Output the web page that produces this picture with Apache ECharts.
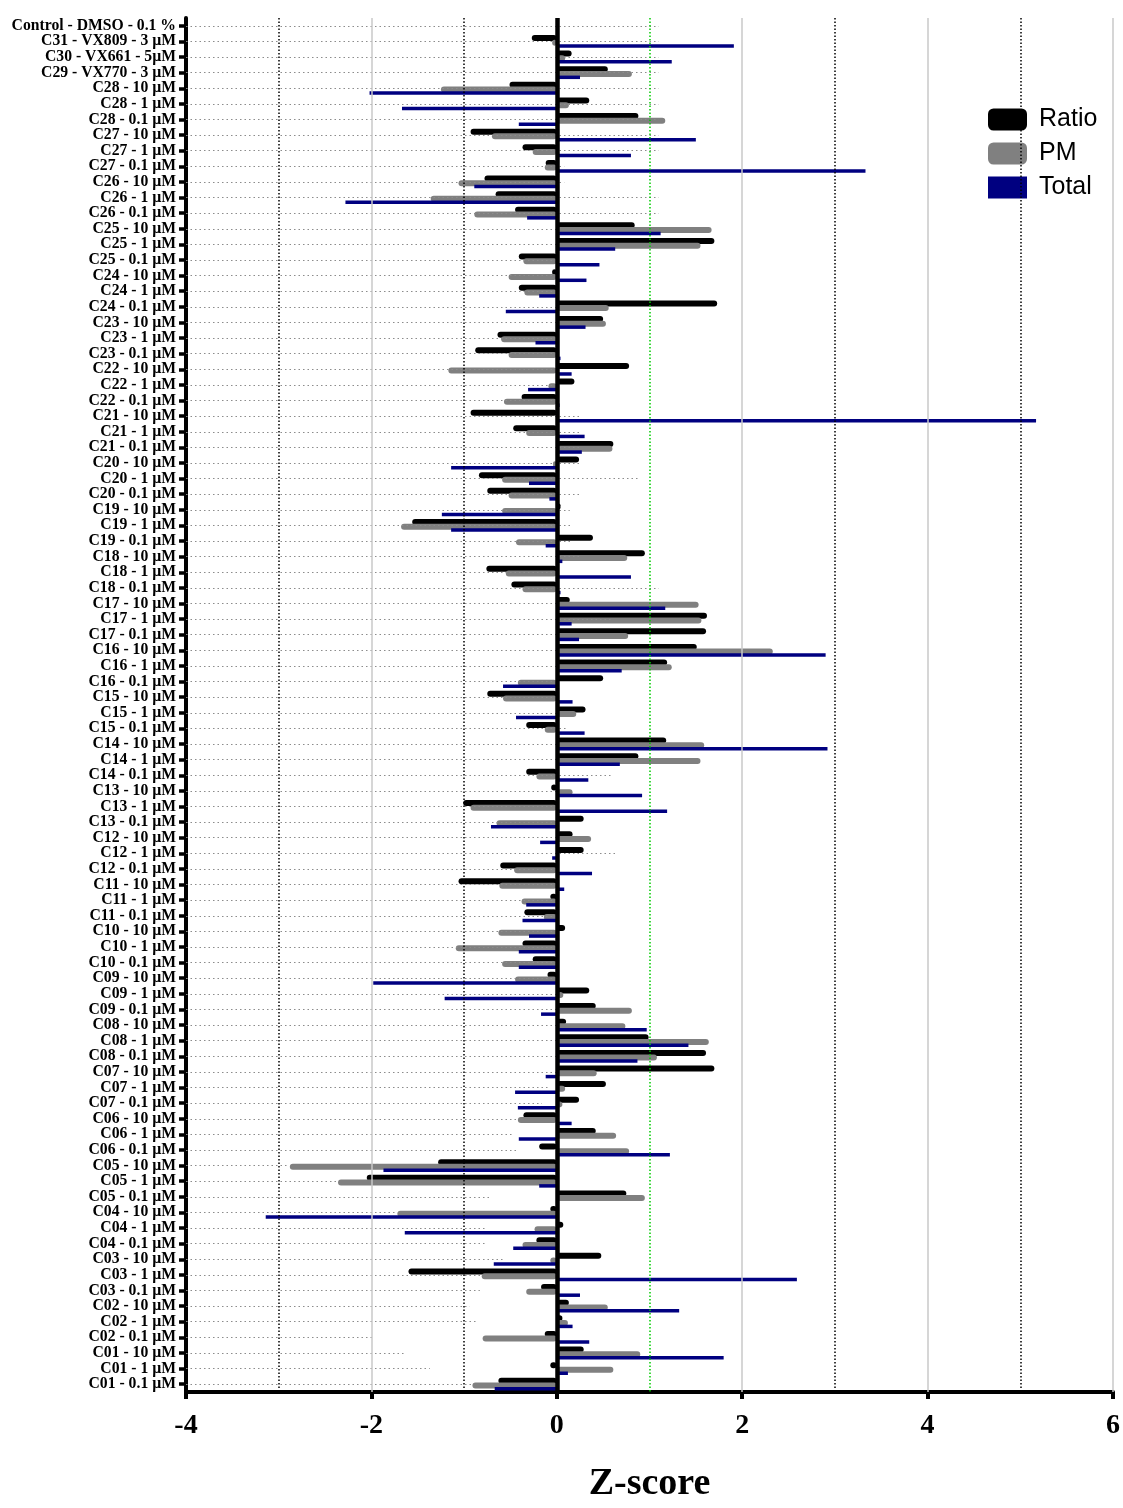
<!DOCTYPE html>
<html>
<head>
<meta charset="utf-8">
<script src="https://cdn.jsdelivr.net/npm/echarts@6/dist/echarts.min.js"></script>
<style>
  html, body { margin: 0; padding: 0; background: #ffffff; }
  #chart { width: 1123px; height: 1508px; }
</style>
</head>
<body>
<div id="chart"></div>
<script>
// Compound / concentration labels, top to bottom
const categories = [
  'Control - DMSO - 0.1 %', 'C31 - VX809 - 3 µM', 'C30 - VX661 - 5µM', 'C29 - VX770 - 3 µM',
  'C28 - 10 µM', 'C28 - 1 µM', 'C28 - 0.1 µM',
  'C27 - 10 µM', 'C27 - 1 µM', 'C27 - 0.1 µM',
  'C26 - 10 µM', 'C26 - 1 µM', 'C26 - 0.1 µM',
  'C25 - 10 µM', 'C25 - 1 µM', 'C25 - 0.1 µM',
  'C24 - 10 µM', 'C24 - 1 µM', 'C24 - 0.1 µM',
  'C23 - 10 µM', 'C23 - 1 µM', 'C23 - 0.1 µM',
  'C22 - 10 µM', 'C22 - 1 µM', 'C22 - 0.1 µM',
  'C21 - 10 µM', 'C21 - 1 µM', 'C21 - 0.1 µM',
  'C20 - 10 µM', 'C20 - 1 µM', 'C20 - 0.1 µM',
  'C19 - 10 µM', 'C19 - 1 µM', 'C19 - 0.1 µM',
  'C18 - 10 µM', 'C18 - 1 µM', 'C18 - 0.1 µM',
  'C17 - 10 µM', 'C17 - 1 µM', 'C17 - 0.1 µM',
  'C16 - 10 µM', 'C16 - 1 µM', 'C16 - 0.1 µM',
  'C15 - 10 µM', 'C15 - 1 µM', 'C15 - 0.1 µM',
  'C14 - 10 µM', 'C14 - 1 µM', 'C14 - 0.1 µM',
  'C13 - 10 µM', 'C13 - 1 µM', 'C13 - 0.1 µM',
  'C12 - 10 µM', 'C12 - 1 µM', 'C12 - 0.1 µM',
  'C11 - 10 µM', 'C11 - 1 µM', 'C11 - 0.1 µM',
  'C10 - 10 µM', 'C10 - 1 µM', 'C10 - 0.1 µM',
  'C09 - 10 µM', 'C09 - 1 µM', 'C09 - 0.1 µM',
  'C08 - 10 µM', 'C08 - 1 µM', 'C08 - 0.1 µM',
  'C07 - 10 µM', 'C07 - 1 µM', 'C07 - 0.1 µM',
  'C06 - 10 µM', 'C06 - 1 µM', 'C06 - 0.1 µM',
  'C05 - 10 µM', 'C05 - 1 µM', 'C05 - 0.1 µM',
  'C04 - 10 µM', 'C04 - 1 µM', 'C04 - 0.1 µM',
  'C03 - 10 µM', 'C03 - 1 µM', 'C03 - 0.1 µM',
  'C02 - 10 µM', 'C02 - 1 µM', 'C02 - 0.1 µM',
  'C01 - 10 µM', 'C01 - 1 µM', 'C01 - 0.1 µM'
];

// Z-scores per readout (same order as categories)
const ratio = [
  0, -0.27, 0.16, 0.55,
  -0.51, 0.35, 0.88,
  -0.93, -0.37, -0.12,
  -0.78, -0.66, -0.45,
  0.84, 1.70, -0.41,
  -0.05, -0.41, 1.73,
  0.50, -0.64, -0.88,
  0.78, 0.19, -0.38,
  -0.93, -0.47, 0.61,
  0.24, -0.84, -0.75,
  0.04, -1.56, 0.39,
  0.95, -0.76, -0.49,
  0.14, 1.62, 1.61,
  1.51, 1.19, 0.50,
  -0.75, 0.31, -0.33,
  1.18, 0.88, -0.33,
  -0.06, -1.01, 0.29,
  0.17, 0.29, -0.61,
  -1.06, -0.07, -0.35,
  0.09, -0.37, -0.26,
  -0.10, 0.35, 0.42,
  0.10, 0.99, 1.61,
  1.70, 0.53, 0.24,
  -0.36, 0.42, -0.19,
  -1.28, -2.05, 0.75,
  -0.07, 0.07, -0.22,
  0.48, -1.60, -0.17,
  0.13, 0.06, -0.13,
  0.29, -0.07, -0.63
];

const pm = [
  0, -0.05, 0.09, 0.81,
  -1.25, 0.13, 1.17,
  -0.70, -0.26, -0.13,
  -1.06, -1.36, -0.89,
  1.67, 1.55, -0.36,
  -0.52, -0.35, 0.56,
  0.53, -0.60, -0.52,
  -1.17, -0.09, -0.57,
  0, -0.33, 0.60,
  -0.04, -0.59, -0.52,
  -0.59, -1.68, -0.44,
  0.76, -0.55, -0.37,
  1.53, 1.56, 0.77,
  2.33, 1.24, -0.42,
  -0.58, 0.21, -0.13,
  1.59, 1.55, -0.22,
  0.17, -0.93, -0.65,
  0.37, 0.02, -0.46,
  -0.62, -0.38, -0.14,
  -0.63, -1.09, -0.59,
  -0.45, 0.07, 0.81,
  0.74, 1.64, 1.08,
  0.43, 0.09, 0.06,
  -0.42, 0.64, 0.78,
  -2.88, -2.36, 0.95,
  -1.72, -0.24, -0.37,
  -0.07, -0.81, -0.33,
  0.55, 0.12, -0.80,
  0.90, 0.61, -0.91
];

const total = [
  0, 1.91, 1.24, 0.25,
  -2.02, -1.67, -0.41,
  1.50, 0.80, 3.33,
  -0.89, -2.28, -0.32,
  1.12, 0.63, 0.46,
  0.32, -0.19, -0.55,
  0.31, -0.23, 0.04,
  0.16, -0.31, 0.03,
  5.17, 0.30, 0.27,
  -1.14, -0.30, -0.08,
  -1.24, -1.14, -0.12,
  0.06, 0.80, 0.04,
  1.17, 0.16, 0.24,
  2.90, 0.70, -0.58,
  0.17, -0.44, 0.30,
  2.92, 0.68, 0.34,
  0.92, 1.19, -0.71,
  -0.18, -0.05, 0.38,
  0.08, -0.33, -0.37,
  -0.30, -0.41, -0.41,
  -1.98, -1.21, -0.17,
  0.97, 1.42, 0.87,
  -0.12, -0.45, -0.42,
  0.16, -0.41, 1.22,
  -1.87, -0.19, 0,
  -3.14, -1.64, -0.47,
  -0.68, 2.59, 0.25,
  1.32, 0.17, 0.35,
  1.80, 0.12, -0.67
];

// Where each row's dotted guide line stops (x value)
const guideEnd = [
  1.1, 1.1, 1.1, 1.1,
  1.1, 1.1, 1.1,
  1.1, 1.1, 0.08,
  0.08, 1.1, 1.1,
  0, 0, 0,
  0, 0, 0,
  0, 0, 0,
  0, 0, 0,
  0.25, 0.27, 0.27,
  0.25, 0.88, 0.27,
  0.14, 0.17, 0.17,
  0.27, 0, 1.1,
  0, 0.58, 0,
  0, 0, 0,
  0, 0, 0.12,
  0, 0, 0.58,
  0, 0, 0,
  0, 0.64, 0,
  0, 0, 0,
  0, 0, 0,
  0, 0, 0,
  0, 0, 0,
  0, -0.09, -0.16,
  -0.42, -0.46, -0.44,
  -2.9, -2.36, -0.72,
  -1.72, -0.77, -0.77,
  -0.57, -0.8, -0.83,
  -0.94, -0.85, -1.98,
  -1.63, -1.37, -0.92
];

// Value axis ticks and reference lines
const xMin = -4, xMax = 6, xInterval = 2;
const dottedRefX = [-3, -1, 3, 5];
const solidRefX = [-2, 2, 4, 6];
const thresholdX = 1;

const serif = '"Liberation Serif", "Times New Roman", serif';
const sans = '"Liberation Sans", Arial, sans-serif';

const guideLines = categories.map((c, i) => [
  { coord: [xMin, i] },
  { coord: [guideEnd[i], i] }
]);

const verticalLines = [
  ...solidRefX.map(x => ({ xAxis: x, lineStyle: { color: '#c8c8c8', width: 1.5, type: 'solid' } })),
  ...dottedRefX.map(x => ({ xAxis: x, lineStyle: { color: '#000000', width: 1.5, type: [1.5, 2] } })),
  { xAxis: thresholdX, lineStyle: { color: '#00cc00', width: 1.5, type: [1.5, 2] } },
  { xAxis: 0, lineStyle: { color: '#000000', width: 4.5, type: 'solid' } }
];

const chart = echarts.init(document.getElementById('chart'), null, { renderer: 'canvas' });

chart.setOption({
  animation: false,
  backgroundColor: '#ffffff',
  grid: { left: 186, right: 9, top: 18, bottom: 103, containLabel: false },
  legend: {
    orient: 'vertical',
    left: 983,
    top: 102,
    itemWidth: 39,
    itemHeight: 22,
    itemGap: 9,
    selectedMode: false,
    textStyle: { fontFamily: sans, fontSize: 25, color: '#000000', padding: [0, 0, 0, 7] },
    data: [
      { name: 'Ratio', icon: 'roundRect' },
      { name: 'PM', icon: 'roundRect' },
      { name: 'Total', icon: 'rect' }
    ]
  },
  xAxis: {
    type: 'value',
    min: xMin,
    max: xMax,
    interval: xInterval,
    name: 'Z-score',
    nameLocation: 'middle',
    nameGap: 73,
    nameTextStyle: { fontFamily: serif, fontWeight: 'bold', fontSize: 38, color: '#000000' },
    axisLine: { show: true, onZero: false, lineStyle: { color: '#000000', width: 4 } },
    axisTick: { show: true, length: 7, lineStyle: { color: '#000000', width: 4 } },
    axisLabel: { fontFamily: serif, fontWeight: 'bold', fontSize: 28, color: '#000000', margin: 20 },
    splitLine: { show: false }
  },
  yAxis: {
    type: 'category',
    inverse: true,
    data: categories,
    axisLine: { show: true, onZero: false, lineStyle: { color: '#000000', width: 4 } },
    axisTick: { show: true, alignWithLabel: true, length: 7, lineStyle: { color: '#000000', width: 3.5 } },
    axisLabel: { fontFamily: serif, fontWeight: 'bold', fontSize: 15.7, color: '#000000', margin: 10, interval: 0 },
    splitLine: { show: false }
  },
  series: [
    {
      name: 'Ratio', type: 'bar', data: ratio, barWidth: 6, barGap: '-22%',
      itemStyle: { color: '#000000', borderRadius: 3 }, z: 2
    },
    {
      name: 'PM', type: 'bar', data: pm, barWidth: 6, barGap: '-22%',
      itemStyle: { color: '#808080', borderRadius: 3 }, z: 2
    },
    {
      name: 'Total', type: 'bar', data: total, barWidth: 3.5, barGap: '-22%',
      itemStyle: { color: '#000080' }, z: 2
    },
    {
      name: 'guides', type: 'line', data: [], z: 5, silent: true,
      markLine: {
        silent: true, symbol: ['none', 'none'], label: { show: false },
        lineStyle: { color: '#8c8c8c', width: 1.2, type: [1.5, 3] },
        data: guideLines
      }
    },
    {
      name: 'refs', type: 'line', data: [], z: 6, silent: true,
      markLine: {
        silent: true, symbol: ['none', 'none'], label: { show: false },
        data: verticalLines
      }
    }
  ]
});
</script>
</body>
</html>
